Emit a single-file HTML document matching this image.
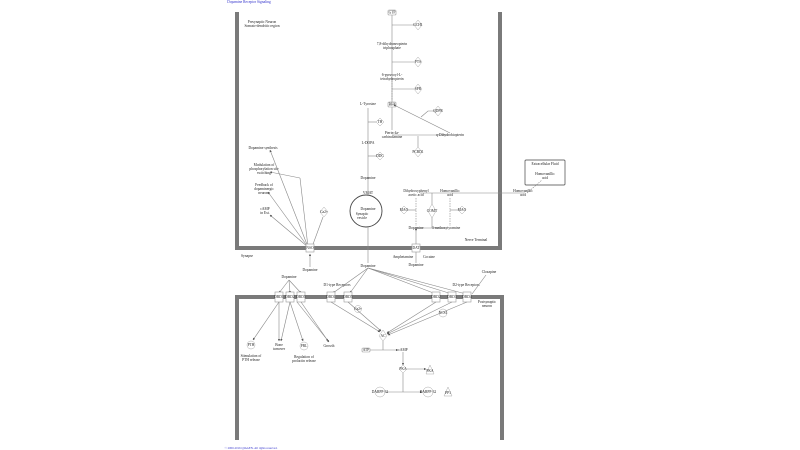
<!DOCTYPE html>
<html><head><meta charset="utf-8"><style>
html,body{margin:0;padding:0;background:#fff;width:800px;height:450px;overflow:hidden}
svg{display:block}
text{font-family:"Liberation Serif",serif;font-size:3.6px;fill:#222;text-anchor:middle}
.l{stroke:#888;stroke-width:0.6;fill:none}
.d{stroke:#888;stroke-width:0.6;fill:none;stroke-dasharray:1.5,1}
.w{fill:#7a7a7a}
.n{fill:#fff;stroke:#aaa;stroke-width:0.5}
.b{fill:#fff;stroke:#999;stroke-width:0.6}
</style></head><body>
<svg width="800" height="450" viewBox="0 0 800 450" xmlns="http://www.w3.org/2000/svg">
<defs><marker id="a" markerWidth="4" markerHeight="4" refX="3.5" refY="2" orient="auto"><path d="M0,0L4,2L0,4z" fill="#555"/></marker></defs>
<text x="249" y="3" style="fill:#33c;font-size:3.6px">Dopamine Receptor Signaling</text>
<text x="251" y="449" style="fill:#33c;font-size:3px">© 2000-2016 QIAGEN. All rights reserved.</text>
<!-- walls -->
<rect class="w" x="235" y="12" width="4" height="238"/>
<rect class="w" x="235" y="246" width="267" height="4"/>
<rect class="w" x="498" y="12" width="4" height="238"/>
<rect class="w" x="235" y="295" width="269" height="4"/>
<rect class="w" x="235" y="295" width="4" height="145"/>
<rect class="w" x="500" y="295" width="4" height="145"/>
<text x="262" y="23">Presynaptic Neuron</text><text x="262" y="27">Somato-dendritic region</text>
<text x="476" y="241">Nerve Terminal</text>
<text x="247" y="257">Synapse</text>
<text x="487" y="303">Postsynaptic</text><text x="487" y="307">neuron</text>
<!-- extracellular -->
<rect x="525" y="160" width="40" height="25" rx="1" fill="#fff" stroke="#444" stroke-width="0.7"/>
<text x="545" y="165">Extracellular Fluid</text>
<text x="545" y="175">Homovanillic</text><text x="545" y="179">acid</text>
<line class="l" x1="420" y1="193" x2="525" y2="193"/>
<line class="d" x1="527" y1="193" x2="542" y2="180"/>
<text x="523" y="192">Homovanillic</text><text x="523" y="196">acid</text>
<!-- synthesis chain -->
<line class="l" x1="392" y1="15" x2="392" y2="130"/>
<line class="d" x1="392" y1="78" x2="392" y2="100"/>
<rect class="b" x="388" y="10" width="8" height="5" rx="1"/><text x="392" y="13.5">GTP</text>
<line class="l" x1="392" y1="25" x2="414" y2="25"/><path class="n" d="M418,20L422,25L418,30L414,25z"/><text x="418" y="26">GCH1</text>
<text x="392" y="45">7,8-dihydroneopterin</text><text x="392" y="49">triphosphate</text>
<line class="l" x1="392" y1="62" x2="414" y2="62"/><path class="n" d="M418,57L422,62L418,67L414,62z"/><text x="418" y="63">PTS</text>
<text x="392" y="76">6-pyruvoyl-L-</text><text x="392" y="80">tetrahydropterin</text>
<line class="l" x1="392" y1="89" x2="414" y2="89"/><path class="n" d="M418,84L422,89L418,94L414,89z"/><text x="418" y="90">SPR</text>
<rect class="b" x="388" y="102" width="8" height="5" rx="1"/><text x="392" y="105.5">BH4</text>
<text x="368" y="105">L-Tyrosine</text>
<line class="l" x1="396" y1="106" x2="450" y2="133" marker-start="url(#a)"/>
<polyline class="l" points="421,117 428,111 436,111"/><path class="n" d="M438,106L442,111L438,116L434,111z"/><text x="438" y="112">QDPR</text>
<line class="l" x1="392" y1="135" x2="448" y2="135"/>
<text x="392" y="134">Pterin-4a-</text><text x="392" y="138">carbinolamine</text>
<text x="450" y="136">q-Dihydrobiopterin</text>
<line class="l" x1="418" y1="136" x2="418" y2="148"/><path class="n" d="M418,147L422,152L418,157L414,152z"/><text x="418" y="153">PCBD1</text>
<line class="l" x1="368" y1="108" x2="368" y2="195"/>
<line class="l" x1="368" y1="122" x2="376" y2="122"/><path class="n" d="M380,118L384,122L380,126L376,122z"/><text x="380" y="123">TH</text>
<text x="368" y="144">L-DOPA</text>
<line class="l" x1="368" y1="156" x2="376" y2="156"/><path class="n" d="M380,152L384,156L380,160L376,156z"/><text x="380" y="157">DDC</text>
<text x="368" y="179">Dopamine</text>
<text x="368" y="194">VMAT</text>
<circle cx="366" cy="211" r="16" fill="none" stroke="#444" stroke-width="0.9"/>
<text x="368" y="210">Dopamine</text><text x="362" y="215">Synaptic</text><text x="362" y="219">vesicle</text>
<line class="l" x1="368" y1="227" x2="368" y2="263"/>
<text x="368" y="267">Dopamine</text>
<!-- left effects -->
<text x="263" y="149">Dopamine synthesis</text>
<text x="264" y="166">Modulation of</text><text x="264" y="170">phosphorylation site</text><text x="264" y="174">switching</text>
<text x="264" y="186">Feedback of</text><text x="264" y="190">dopaminergic</text><text x="264" y="194">neurons</text>
<text x="265" y="210">cAMP</text><text x="265" y="214">in Ext.</text>
<path class="n" d="M324,207L328,212L324,217L320,212z"/><text x="324" y="213">Ca2+</text>
<line class="l" x1="308" y1="247" x2="270" y2="150" marker-end="url(#a)"/>
<line class="l" x1="308" y1="247" x2="300" y2="178" />
<line class="l" x1="300" y1="178" x2="270" y2="172" marker-end="url(#a)"/>
<line class="l" x1="308" y1="247" x2="268" y2="192" marker-end="url(#a)"/>
<line class="l" x1="308" y1="247" x2="270" y2="215" marker-end="url(#a)"/>
<line class="l" x1="312" y1="247" x2="323" y2="217"/>
<rect class="b" x="306" y="244" width="8" height="8"/><text x="310" y="249">NSO</text>
<line class="l" x1="310" y1="267" x2="310" y2="254" marker-end="url(#a)"/>
<text x="310" y="271">Dopamine</text>
<!-- nerve terminal right -->
<text x="416" y="192">Dihydroxyphenyl</text><text x="416" y="196">acetic acid</text>
<text x="450" y="192">Homovanillic</text><text x="450" y="196">acid</text>
<line class="d" x1="416" y1="198" x2="416" y2="226"/>
<line class="d" x1="450" y1="198" x2="450" y2="226"/>
<line class="l" x1="432" y1="193" x2="432" y2="228"/>
<line class="l" x1="408" y1="210" x2="416" y2="210"/><path class="n" d="M404,206L408,210L404,214L400,210z"/><text x="404" y="211">MAO</text>
<path class="n" d="M432,204L436,211L432,218L428,211z"/><text x="432" y="212">COMT</text>
<line class="l" x1="450" y1="210" x2="458" y2="210"/><path class="n" d="M462,206L466,210L462,214L458,210z"/><text x="462" y="211">MAO</text>
<line class="l" x1="416" y1="228" x2="446" y2="228"/>
<text x="416" y="229">Dopamine</text><text x="446" y="229">3-methoxytyramine</text>
<line class="l" x1="416" y1="231" x2="416" y2="244" marker-start="url(#a)"/>
<rect class="b" x="412" y="244" width="8" height="8"/><text x="416" y="249">DAT</text>
<line class="l" x1="416" y1="252" x2="416" y2="263"/>
<text x="403" y="258">Amphetamine</text><text x="429" y="258">Cocaine</text><text x="416" y="266">Dopamine</text>
<!-- synapse to receptors -->
<text x="289" y="278">Dopamine</text>
<line class="l" x1="289" y1="280" x2="279" y2="293" marker-end="url(#a)"/>
<line class="l" x1="289" y1="280" x2="290" y2="293" marker-end="url(#a)"/>
<line class="l" x1="289" y1="280" x2="301" y2="293" marker-end="url(#a)"/>
<text x="337" y="286">D1-type Receptors</text><text x="466" y="286">D2-type Receptors</text>
<line class="l" x1="368" y1="268" x2="333" y2="293" marker-end="url(#a)"/>
<line class="l" x1="368" y1="268" x2="350" y2="293" marker-end="url(#a)"/>
<line class="l" x1="368" y1="268" x2="436" y2="294" marker-end="url(#a)"/>
<line class="l" x1="368" y1="268" x2="452" y2="294" marker-end="url(#a)"/>
<line class="l" x1="368" y1="268" x2="466" y2="294" marker-end="url(#a)"/>
<text x="489" y="273">Clozapine</text>
<line class="l" x1="486" y1="275" x2="472" y2="294"/>
<g>
<rect class="b" x="275" y="292" width="8" height="10"/><text x="279" y="298">DRD1</text>
<rect class="b" x="286" y="292" width="8" height="10"/><text x="290" y="298">DRD2</text>
<rect class="b" x="297" y="292" width="8" height="10"/><text x="301" y="298">DRD5</text>
<rect class="b" x="327" y="292" width="8" height="10"/><text x="331" y="298">DRD1</text>
<rect class="b" x="344" y="292" width="8" height="10"/><text x="348" y="298">DRD5</text>
<rect class="b" x="432" y="292" width="8" height="10"/><text x="436" y="298">DRD2</text>
<rect class="b" x="448" y="292" width="8" height="10"/><text x="452" y="298">DRD3</text>
<rect class="b" x="463" y="292" width="8" height="10"/><text x="467" y="298">DRD4</text>
</g>
<circle class="n" cx="358" cy="309" r="3.5"/><text x="358" y="310">Ca2+</text>
<circle class="n" cx="443" cy="313" r="4"/><text x="443" y="314">NCS1</text>
<line class="l" x1="331" y1="302" x2="380" y2="332" marker-end="url(#a)"/>
<line class="l" x1="348" y1="302" x2="381" y2="331" marker-end="url(#a)"/>
<line class="l" x1="436" y1="302" x2="387" y2="333" marker-end="url(#a)"/>
<line class="l" x1="452" y1="302" x2="387" y2="334" marker-end="url(#a)"/>
<line class="l" x1="467" y1="302" x2="388" y2="335" marker-end="url(#a)"/>
<path class="n" d="M383,330L387,336L383,341L379,336z"/><text x="383" y="337">AC</text>
<line class="l" x1="370" y1="350" x2="398" y2="350" marker-end="url(#a)"/>
<rect class="b" x="362" y="348" width="8" height="4" rx="1"/><text x="366" y="351">ATP</text>
<text x="403" y="351">cAMP</text>
<line class="l" x1="383" y1="341" x2="383" y2="350"/>
<line class="l" x1="403" y1="352" x2="403" y2="365" marker-end="url(#a)"/>
<path class="n" d="M403,365L407,369L403,373L399,369z"/><text x="403" y="370">PKA</text>
<line class="l" x1="407" y1="369" x2="426" y2="369" marker-end="url(#a)"/>
<path class="n" d="M430,365L434,374L426,374z"/><text x="430" y="372">PKA</text>
<line class="l" x1="403" y1="373" x2="403" y2="392"/>
<line class="l" x1="386" y1="392" x2="422" y2="392" marker-end="url(#a)"/>
<circle class="n" cx="380" cy="392" r="5"/><text x="380" y="393">DARPP-32</text>
<circle class="n" cx="428" cy="392" r="5"/><text x="428" y="393">DARPP-32</text>
<path class="n" d="M448,387L452,396L444,396z"/><text x="448" y="394">PP1</text>
<!-- D1 outcomes -->
<line class="l" x1="279" y1="302" x2="253" y2="340" marker-end="url(#a)"/>
<line class="l" x1="279" y1="302" x2="279" y2="341" marker-end="url(#a)"/>
<line class="l" x1="290" y1="302" x2="281" y2="341" marker-end="url(#a)"/>
<line class="l" x1="290" y1="302" x2="303" y2="341" marker-end="url(#a)"/>
<line class="l" x1="301" y1="302" x2="328" y2="341" marker-end="url(#a)"/>
<line class="l" x1="297" y1="302" x2="329" y2="342" marker-end="url(#a)"/>
<circle class="n" cx="251" cy="345" r="4"/><text x="251" y="346">PTH</text>
<text x="251" y="357">Stimulation of</text><text x="251" y="361">PTH release</text>
<text x="279" y="346">Bone</text><text x="279" y="350">turnover</text>
<circle class="n" cx="304" cy="346" r="4"/><text x="304" y="347">PRL</text>
<text x="304" y="358">Regulation of</text><text x="304" y="362">prolactin release</text>
<text x="329" y="347">Growth</text>
</svg>
</body></html>
